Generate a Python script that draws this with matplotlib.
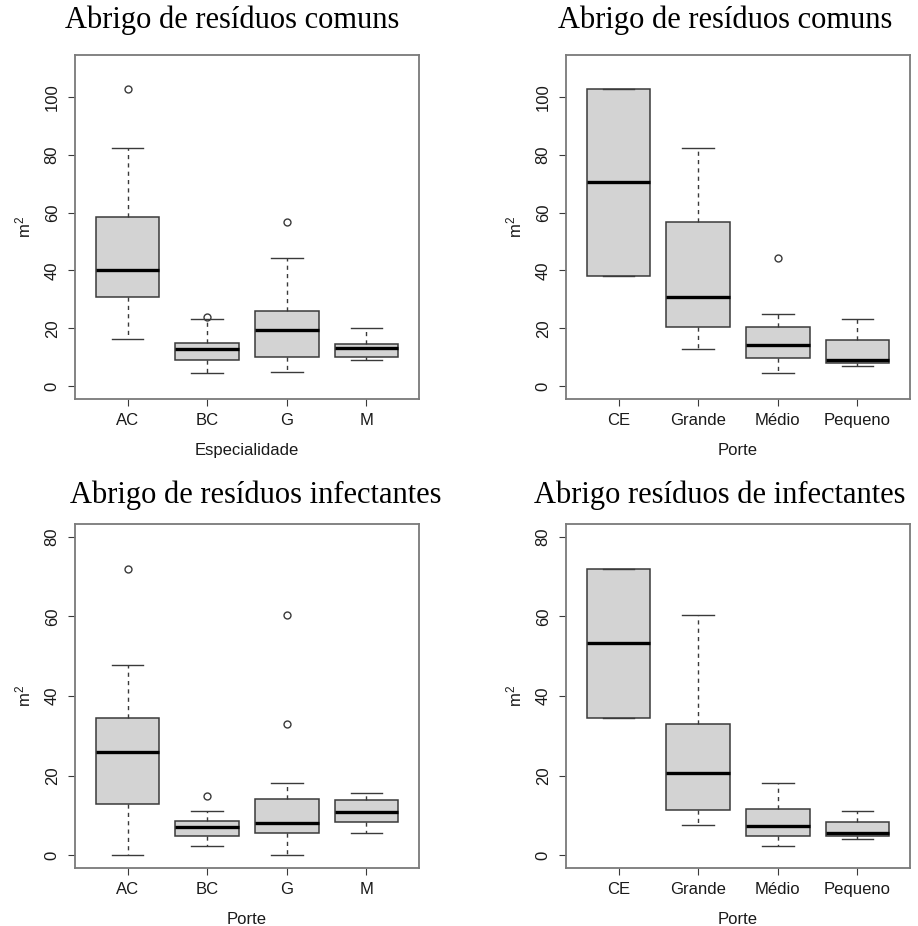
import matplotlib.pyplot as plt

plt.rcParams['font.family'] = ['Liberation Sans', 'DejaVu Sans']
plt.rcParams['mathtext.fontset'] = 'custom'
plt.rcParams['mathtext.rm'] = 'Liberation Sans'
plt.rcParams['mathtext.it'] = 'Liberation Sans'

# categories
esp_labels = ['AC', 'BC', 'G', 'M']
porte_labels = ['CE', 'Grande', 'Médio', 'Pequeno']

# boxplot stats: lower whisker, Q1, median, Q3, upper whisker, outliers
comuns_esp_lo = [16.4, 4.7, 4.8, 9.1]
comuns_esp_q1 = [30.9, 9.1, 10.2, 10.2]
comuns_esp_med = [40.0, 12.7, 19.6, 13.2]
comuns_esp_q3 = [58.3, 14.9, 25.9, 14.5]
comuns_esp_hi = [82.3, 23.1, 44.2, 20.2]
comuns_esp_out = [[102.8], [24.0], [56.8], []]

comuns_por_lo = [38.2, 13.0, 4.7, 6.9]
comuns_por_q1 = [38.2, 20.4, 9.6, 8.1]
comuns_por_med = [70.6, 30.9, 14.2, 9.0]
comuns_por_q3 = [102.8, 56.8, 20.4, 16.1]
comuns_por_hi = [102.8, 82.3, 24.8, 23.1]
comuns_por_out = [[], [], [44.2], []]

infec_esp_lo = [0.0, 2.4, 0.0, 5.7]
infec_esp_q1 = [12.8, 4.8, 5.6, 8.3]
infec_esp_med = [26.0, 7.2, 8.2, 10.8]
infec_esp_q3 = [34.5, 8.7, 14.1, 13.9]
infec_esp_hi = [47.7, 11.2, 18.2, 15.7]
infec_esp_out = [[72.0], [15.0], [60.4, 33.0], []]

infec_por_lo = [34.6, 7.6, 2.4, 4.0]
infec_por_q1 = [34.6, 11.3, 4.8, 4.8]
infec_por_med = [53.3, 20.6, 7.3, 5.7]
infec_por_q3 = [72.0, 33.0, 11.7, 8.3]
infec_por_hi = [72.0, 60.4, 18.2, 11.2]
infec_por_out = [[], [], [], []]

titles = ['Abrigo de resíduos comuns', 'Abrigo de resíduos comuns',
          'Abrigo de resíduos infectantes', 'Abrigo resíduos de infectantes']
xlabels = ['Especialidade', 'Porte', 'Porte', 'Porte']


def make_stats(labels, lo, q1, med, q3, hi, out):
    return [dict(label=l, whislo=a, q1=b, med=c, q3=d, whishi=e, fliers=f)
            for l, a, b, c, d, e, f in zip(labels, lo, q1, med, q3, hi, out)]


panels = [
    (make_stats(esp_labels, comuns_esp_lo, comuns_esp_q1, comuns_esp_med,
                comuns_esp_q3, comuns_esp_hi, comuns_esp_out), 110),
    (make_stats(porte_labels, comuns_por_lo, comuns_por_q1, comuns_por_med,
                comuns_por_q3, comuns_por_hi, comuns_por_out), 110),
    (make_stats(esp_labels, infec_esp_lo, infec_esp_q1, infec_esp_med,
                infec_esp_q3, infec_esp_hi, infec_esp_out), 80),
    (make_stats(porte_labels, infec_por_lo, infec_por_q1, infec_por_med,
                infec_por_q3, infec_por_hi, infec_por_out), 80),
]

W, H = 918, 926
fig = plt.figure(figsize=(W / 100, H / 100), dpi=100)

# axes boxes in pixels: left, top, right, bottom
boxes = [(75, 55, 419, 399), (566, 55, 910, 399),
         (75, 524, 419, 868), (566, 524, 910, 868)]
title_pos = [(232, 28), (725, 28), (256, 503), (720, 503)]

edge = '#3a3a3a'
frame = '#7a7a7a'

for i, ((stats, ymax), (l, t, r, b)) in enumerate(zip(panels, boxes)):
    ax = fig.add_axes([l / W, 1 - b / H, (r - l) / W, (b - t) / H])
    ax.bxp(stats, positions=[1, 2, 3, 4], widths=0.8, patch_artist=True,
           boxprops=dict(facecolor='#d3d3d3', edgecolor=edge, linewidth=1.1),
           medianprops=dict(color='black', linewidth=2.4, solid_capstyle='butt'),
           whiskerprops=dict(color=edge, linewidth=1.0, linestyle=(0, (3, 3))),
           capprops=dict(color=edge, linewidth=1.0),
           capwidths=0.4,
           flierprops=dict(marker='o', markerfacecolor='none', markeredgecolor=edge,
                           markersize=5, markeredgewidth=1.0))
    ext = 0.04 * ymax
    ax.set_ylim(-ext, ymax + ext)
    ax.set_xlim(0.34, 4.66)
    yt = list(range(0, ymax + 1, 20)) if ymax == 80 else list(range(0, 101, 20))
    ax.set_yticks(yt)
    ax.set_yticklabels([str(v) for v in yt], rotation=90, va='center')
    ax.tick_params(axis='both', direction='out', length=5, width=0.8,
                   color=edge, labelsize=12, labelcolor='#1a1a1a')
    ax.tick_params(axis='x', pad=5)
    ax.tick_params(axis='y', pad=6)
    for s in ax.spines.values():
        s.set_color(frame)
        s.set_linewidth(1.3)
    ax.set_xlabel(xlabels[i], fontsize=12, labelpad=11, color='#1a1a1a')
    ax.set_ylabel('m$^2$', fontsize=12, labelpad=8, color='#1a1a1a')

    tx, ty = title_pos[i]
    fig.text(tx / W, 1 - ty / H, titles[i], ha='center', va='baseline',
             fontsize=22, family=['Liberation Serif', 'DejaVu Serif'], color='black')

fig.savefig('out.png', dpi=100)
